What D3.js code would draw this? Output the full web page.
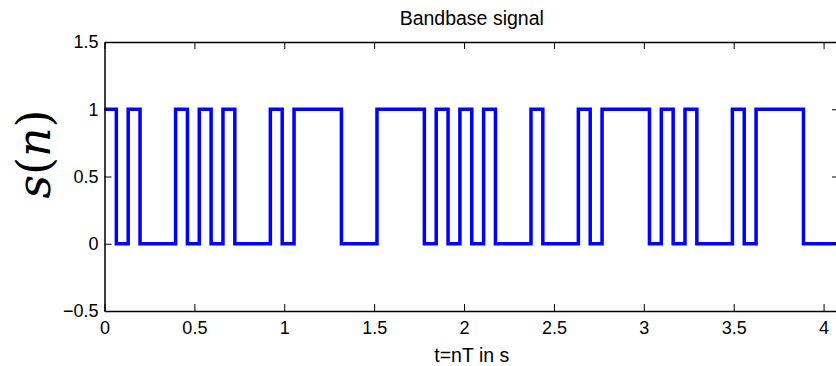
<!DOCTYPE html>
<html>
<head>
<meta charset="utf-8">
<script src="https://cdn.jsdelivr.net/npm/d3@7"></script>
<style>
  body { margin: 0; background: #fff; }
  svg { display: block; }
  .tick text { font-family: "Liberation Sans", Arial, sans-serif; font-size: 18px; fill: #000; }
</style>
</head>
<body>
<svg width="836" height="366"></svg>
<script>
"use strict";

// bit values of the baseband signal, one per period T
var bits = [1, 0, 1, 0, 0, 0, 1, 0, 1, 0, 1, 0, 0, 0, 1, 0, 1, 1, 1, 1,
            0, 0, 0, 1, 1, 1, 1, 0, 1, 0, 1, 0, 1, 0, 0, 0, 1, 0, 0, 0,
            1, 0, 1, 1, 1, 1, 0, 1, 0, 1, 0, 0, 0, 1, 0, 1, 1, 1, 1, 0,
            0, 0];
var T = 0.0659;
var xTicks = [0, 0.5, 1, 1.5, 2, 2.5, 3, 3.5, 4];
var yTicks = [-0.5, 0, 0.5, 1, 1.5];

var svg = d3.select("svg"),
    width = +svg.attr("width"),
    height = +svg.attr("height");

var margin = { left: 104.5, top: 42, right: 839, bottom: 311 };

var x = d3.scaleLinear().domain([0, bits.length * T]).range([margin.left, margin.right]);
var y = d3.scaleLinear().domain([-0.5, 1.5]).range([margin.bottom, margin.top]);

var tickLen = 7;
var fmt = function (d) { return d < 0 ? "\u2212" + Math.abs(d) : "" + d; };

// signal points (t = nT), plus the end of the last period
var pts = bits.map(function (b, n) { return { t: n * T, v: b }; });
pts.push({ t: bits.length * T, v: bits[bits.length - 1] });

var line = d3.line()
  .x(function (d) { return x(d.t); })
  .y(function (d) { return y(d.v); })
  .curve(d3.curveStepAfter);

svg.append("path")
  .datum(pts)
  .attr("fill", "none")
  .attr("stroke", "#0000ff")
  .attr("stroke-width", 3.5)
  .attr("stroke-linejoin", "miter")
  .attr("d", line);

// axes: bottom/left with labels, top/right ticks only (all ticks inward)
var gx = svg.append("g").attr("transform", "translate(0," + margin.bottom + ")")
  .call(d3.axisBottom(x).tickValues(xTicks).tickFormat(fmt).tickSizeInner(-tickLen).tickSizeOuter(0).tickPadding(12));
var gy = svg.append("g").attr("transform", "translate(" + margin.left + ",0)")
  .call(d3.axisLeft(y).tickValues(yTicks).tickFormat(fmt).tickSizeInner(-tickLen).tickSizeOuter(0).tickPadding(6));
var gt = svg.append("g").attr("transform", "translate(0," + margin.top + ")")
  .call(d3.axisTop(x).tickValues(xTicks).tickFormat("").tickSizeInner(-tickLen).tickSizeOuter(0));
var gr = svg.append("g").attr("transform", "translate(" + margin.right + ",0)")
  .call(d3.axisRight(y).tickValues(yTicks).tickFormat("").tickSizeInner(-tickLen).tickSizeOuter(0));

[gx, gy, gt, gr].forEach(function (g) {
  g.select(".domain").attr("stroke", "#000").attr("stroke-width", 1.5);
  g.selectAll(".tick line").attr("stroke", "#000").attr("stroke-width", 1);
});
gx.selectAll(".tick text").attr("dy", "0.6em");

// title and axis labels
svg.append("text")
  .attr("x", (margin.left + margin.right) / 2)
  .attr("y", 25)
  .attr("text-anchor", "middle")
  .style("font-family", "Liberation Sans, Arial, sans-serif")
  .style("font-size", "19.5px")
  .text("Bandbase signal");

svg.append("text")
  .attr("x", (margin.left + margin.right) / 2)
  .attr("y", 362)
  .attr("text-anchor", "middle")
  .style("font-family", "Liberation Sans, Arial, sans-serif")
  .style("font-size", "19.5px")
  .text("t=nT in s");

var yl = svg.append("text")
  .attr("transform", "translate(50,154) rotate(-90)")
  .attr("text-anchor", "middle")
  .style("font-family", "DejaVu Serif, serif")
  .style("font-size", "46px");
yl.append("tspan").style("font-style", "italic").text("s");
yl.append("tspan").text("(");
yl.append("tspan").style("font-style", "italic").text("n");
yl.append("tspan").text(")");
</script>
</body>
</html>
